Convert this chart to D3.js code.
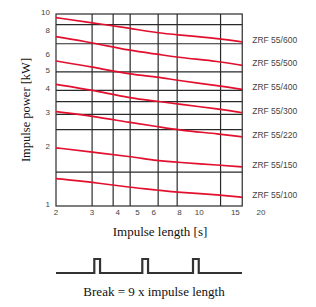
<!DOCTYPE html>
<html><head><meta charset="utf-8">
<script src="https://cdn.jsdelivr.net/npm/d3@7"></script>
<style>html,body{margin:0;padding:0;background:#fff;}svg{display:block;}</style>
</head><body>
<svg id="c" width="316" height="307"></svg>
<script>
// ---- data ----
const xSamples = [2, 3, 4.6, 6.3, 7.8, 12.7, 16.2];
const seriesNames = ["ZRF 55/600","ZRF 55/500","ZRF 55/400","ZRF 55/300","ZRF 55/220","ZRF 55/150","ZRF 55/100"];
const s600 = [9.57, 9.0, 8.42, 7.96, 7.8, 7.44, 7.15];
const s500 = [7.62, 7.09, 6.44, 6.17, 5.95, 5.65, 5.40];
const s400 = [5.69, 5.30, 4.85, 4.70, 4.51, 4.22, 4.05];
const s300 = [4.30, 4.02, 3.64, 3.51, 3.40, 3.19, 3.06];
const s220 = [3.10, 2.94, 2.72, 2.59, 2.49, 2.37, 2.29];
const s150 = [2.01, 1.91, 1.81, 1.72, 1.69, 1.63, 1.60];
const s100 = [1.39, 1.33, 1.25, 1.21, 1.18, 1.14, 1.11];
const seriesValues = [s600, s500, s400, s300, s220, s150, s100];
const xTickLabels = [2, 3, 4, 5, 6, 8, 10, 15, 20];
const yTickLabels = [1, 2, 3, 4, 5, 6, 8, 10];
const xGrid = [3, 3.8, 4.6, 6.3, 7.8, 12.7];
const yGrid = [1.5, 2.5, 3, 3.5, 4, 5, 7, 8.8];
const xMin = 2, xMax = 16.2, yMin = 1, yMax = 10;
// pulse schematic (time units)
const pulseStarts = [7.66, 17.26, 27.4];
const pulseWidth = 1.15;
const pulseSpan = [0, 37.2];

// ---- drawing ----
const svg = d3.select("#c");
const x = d3.scaleLog().domain([2, 20]).range([56, 261]);
const y = d3.scaleLog().domain([yMin, yMax]).range([206, 14]);
const gridColor = "#2a2a2a";

const g = svg.append("g");
g.selectAll("line.h").data(yGrid).join("line")
  .attr("x1", x(xMin)).attr("x2", x(xMax))
  .attr("y1", d => y(d)).attr("y2", d => y(d))
  .attr("stroke", gridColor).attr("stroke-width", 1.2);
g.selectAll("line.v").data(xGrid).join("line")
  .attr("y1", y(yMin)).attr("y2", y(yMax))
  .attr("x1", d => x(d)).attr("x2", d => x(d))
  .attr("stroke", gridColor).attr("stroke-width", 1.2);
g.append("rect")
  .attr("x", x(xMin)).attr("y", y(yMax))
  .attr("width", x(xMax) - x(xMin)).attr("height", y(yMin) - y(yMax))
  .attr("fill", "none").attr("stroke", gridColor).attr("stroke-width", 1.2);

// curves
const line = d3.line().x((d, i) => x(xSamples[i])).y(d => y(d)).curve(d3.curveBasis);
g.selectAll("path.s").data(seriesValues).join("path")
  .attr("d", d => line(d))
  .attr("fill", "none").attr("stroke", "#e2102e").attr("stroke-width", 1.7);

// series labels
g.selectAll("text.sl").data(seriesValues).join("text")
  .attr("x", x(xMax) + 10).attr("y", d => y(d[d.length - 1]) - 2)
  .attr("dy", "0.35em")
  .attr("font-family", "Liberation Sans, Arial, sans-serif").attr("font-size", 8.5)
  .attr("fill", "#444")
  .text((d, i) => seriesNames[i]);

// tick labels
g.selectAll("text.xt").data(xTickLabels).join("text")
  .attr("x", d => x(d)).attr("y", 215)
  .attr("text-anchor", "middle")
  .attr("font-family", "Liberation Sans, Arial, sans-serif").attr("font-size", 8)
  .attr("fill", "#444").text(d => d);
g.selectAll("text.yt").data(yTickLabels).join("text")
  .attr("x", 50).attr("y", d => y(d) - 2).attr("dy", "0.35em")
  .attr("text-anchor", "end")
  .attr("font-family", "Liberation Sans, Arial, sans-serif").attr("font-size", 8)
  .attr("fill", "#444").text(d => d);

// axis titles
svg.append("text")
  .attr("transform", "translate(30,110) rotate(-90)")
  .attr("text-anchor", "middle")
  .attr("font-family", "Liberation Serif, Times New Roman, serif").attr("font-size", 12.5)
  .attr("fill", "#111").text("Impulse power [kW]");
svg.append("text")
  .attr("x", 160).attr("y", 236)
  .attr("text-anchor", "middle")
  .attr("font-family", "Liberation Serif, Times New Roman, serif").attr("font-size", 13)
  .attr("fill", "#111").text("Impulse length [s]");

// pulse schematic
const t = d3.scaleLinear().domain(pulseSpan).range([56, 242]);
const baseY = 273, topY = 259;
const pts = [[t(pulseSpan[0]), baseY]];
pulseStarts.forEach(s => {
  pts.push([t(s), baseY], [t(s), topY], [t(s + pulseWidth), topY], [t(s + pulseWidth), baseY]);
});
pts.push([t(pulseSpan[1]), baseY]);
svg.append("path")
  .attr("d", d3.line()(pts))
  .attr("fill", "none").attr("stroke", "#333").attr("stroke-width", 2.2)
  .attr("stroke-linejoin", "miter");
svg.append("text")
  .attr("x", 154).attr("y", 296)
  .attr("text-anchor", "middle")
  .attr("font-family", "Liberation Serif, Times New Roman, serif").attr("font-size", 13)
  .attr("fill", "#111").text("Break = 9 x impulse length");
</script>
</body></html>
